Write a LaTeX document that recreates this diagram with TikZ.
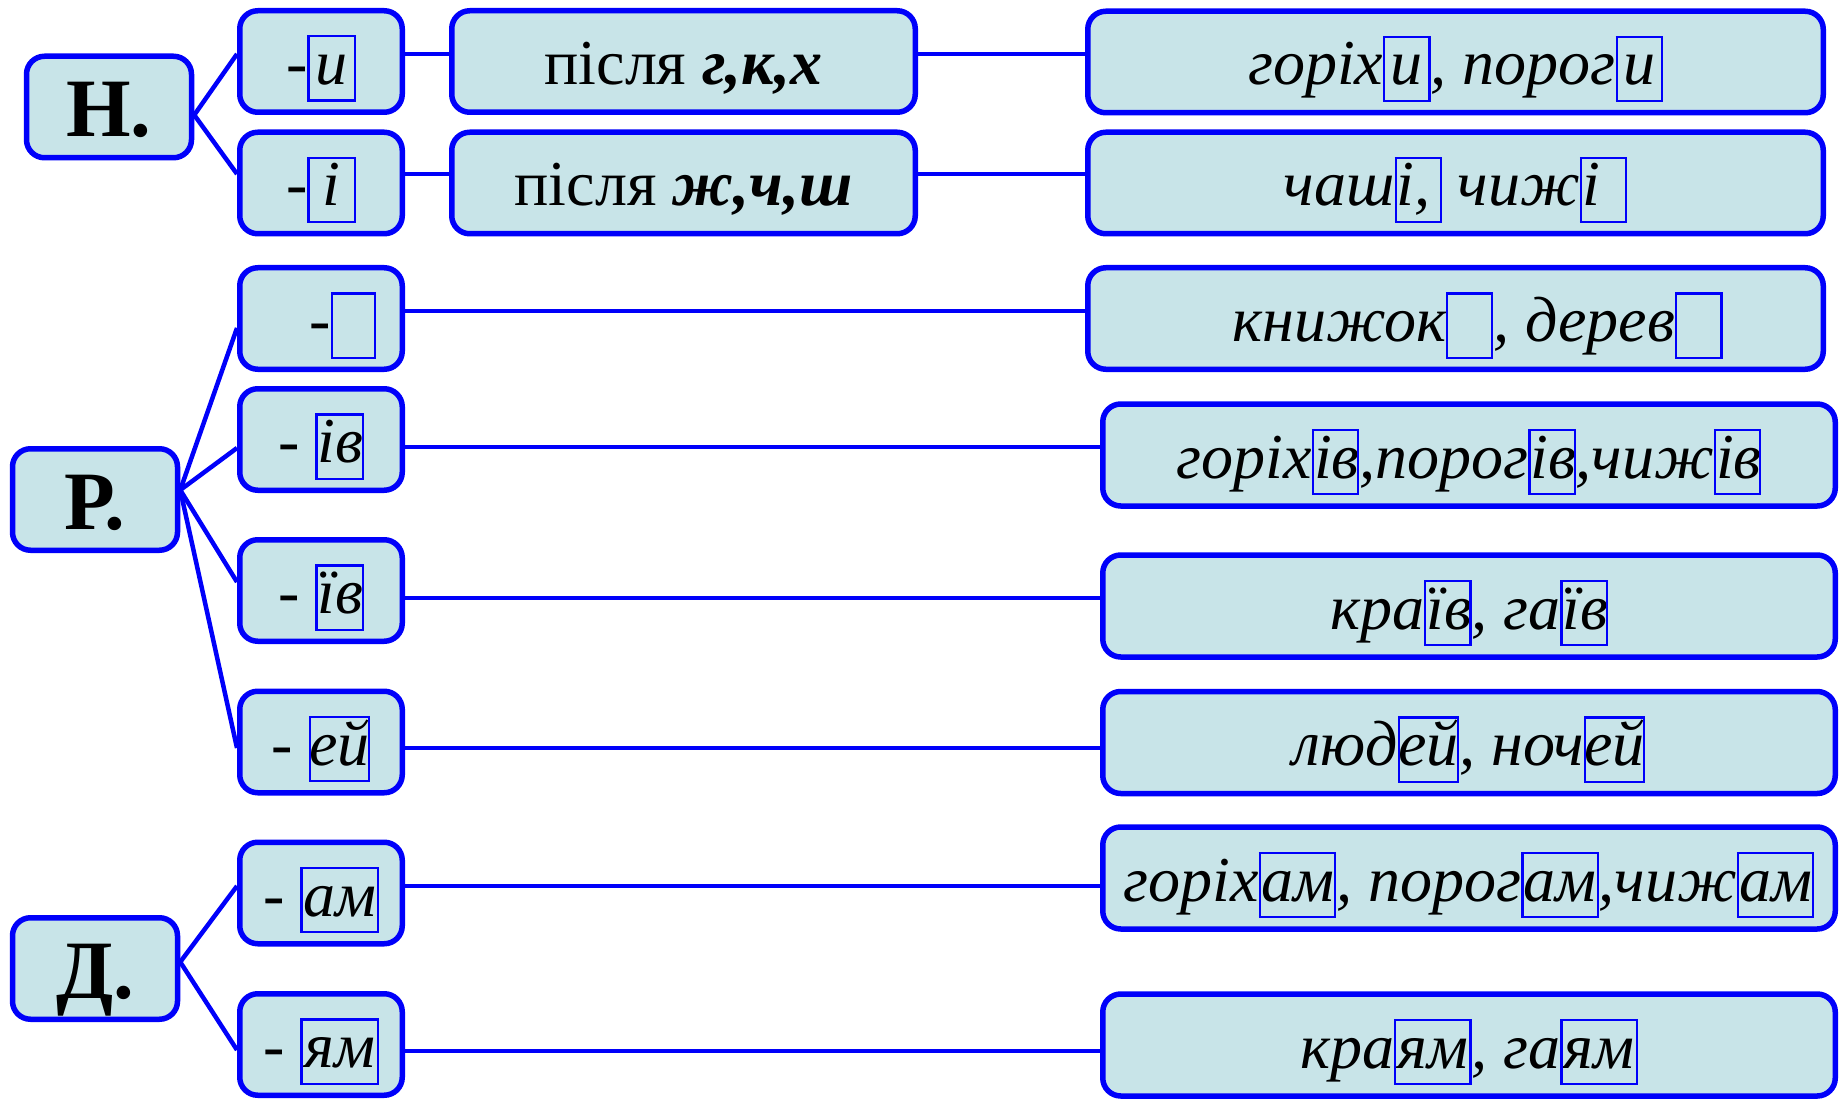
\documentclass[tikz,border=0pt]{standalone}
\usepackage{fontspec}
\setmainfont{Liberation Serif}
\definecolor{bfill}{RGB}{200,228,232}
\definecolor{bline}{RGB}{0,0,250}
\newcommand\fsN{\fontsize{64pt}{70pt}\selectfont}
\newcommand\fsB{\fontsize{83pt}{90pt}\selectfont\bfseries}
% framed ending: optional alignment, width, content
\newcommand\bx[3][c]{{\color{bline}\setlength\fboxrule{2.2pt}\setlength\fboxsep{0pt}\fbox{\color{black}\makebox[#2][#1]{\rule[-15pt]{0pt}{62pt}#3}}}}
\begin{document}
\begin{tikzpicture}[x=1pt,y=-1pt,
  basebox/.style={draw=bline, fill=bfill, line width=5.5pt, rounded corners=18pt, inner sep=0pt, text height=54pt, text depth=8pt, font=\fsN},
  headbox/.style={basebox, minimum width=165pt, minimum height=101.5pt, text height=60pt, text depth=0pt, font=\fsB},
  sufbox/.style={basebox, minimum width=162.5pt, minimum height=101.5pt},
  rulebox/.style={basebox, minimum width=463.5pt, minimum height=101.5pt},
  exboxa/.style={basebox, minimum width=735.5pt, minimum height=101.5pt},
  exboxb/.style={basebox, minimum width=732.5pt, minimum height=102pt},
  conn/.style={draw=bline, line width=4.5pt}]
\useasboundingbox (0,0) rectangle (1839,1099);

% case boxes
\node[headbox] (N) at (109,107) {Н.};
\node[headbox] (R) at (95,499.5) {Р.};
\node[headbox] (D) at (95,968.5) {Д.};

% ending boxes
\node[sufbox] (si)  at (321,61.5)  {-\bx{44pt}{\itshape и}};
\node[sufbox] (sii) at (321,183)   {-\bx{44pt}{\itshape і}};
\node[sufbox] (s0)  at (321,318.5) {\hspace{44pt}-\bx{41pt}{}};
\node[sufbox] (siv) at (321,439.5) {- \bx[l]{44pt}{\itshape ів}};
\node[sufbox] (sjv) at (321,590.5) {- \bx[l]{44pt}{\itshape їв}};
\node[sufbox] (sej) at (321,742)   {- \bx{57pt}{\itshape ей}};
\node[sufbox] (sam) at (321,893)   {- \bx{74pt}{\itshape ам}};
\node[sufbox] (sjm) at (321,1044.5){- \bx{74pt}{\itshape ям}};

% rule boxes
\node[rulebox] (p1) at (683.5,61.5) {після \textbf{\textit{г,к,х}}};
\node[rulebox] (p2) at (683.5,183)  {після \textbf{\textit{ж,ч,ш}}};

% example boxes
\node[exboxa] (e1) at (1455.5,62)    {\itshape горіх\bx{43pt}{и}, порог\bx{43pt}{и}};
\node[exboxa] (e2) at (1455.5,183)   {\itshape чаш\bx[l]{43pt}{і,} чиж\bx[l]{43pt}{і}};
\node[exboxa] (e3) at (1455.5,318.5) {\itshape\hspace{44pt}книжок\bx{43pt}{}, дерев\bx{43pt}{}};
\node[exboxb] (e4) at (1469,455)     {\itshape горіх\bx[l]{43pt}{ів},порог\bx[l]{43pt}{ів},чиж\bx[l]{43pt}{ів}};
\node[exboxb] (e5) at (1469,606)     {\itshape кра\bx[l]{43pt}{їв}, га\bx[l]{43pt}{їв}};
\node[exboxb] (e6) at (1469,742.5)   {\itshape люд\bx{57pt}{ей}, ноч\bx{57pt}{ей}};
\node[exboxb] (e7) at (1469,878)     {\itshape горіх\bx{73pt}{ам}, порог\bx{73pt}{ам},чиж\bx{73pt}{ам}};
\node[exboxb] (e8) at (1469,1045)    {\itshape кра\bx{73pt}{ям}, га\bx{73pt}{ям}};

% fans
\draw[conn] (si.west |- 0,54) -- (N.east |- 0,115) -- (sii.west |- 0,174);
\draw[conn] (R.east |- 0,490) -- (s0.west |- 0,328);
\draw[conn] (R.east |- 0,490) -- (siv.west |- 0,448);
\draw[conn] (R.east |- 0,490) -- (sjv.west |- 0,582);
\draw[conn] (R.east |- 0,490) -- (sej.west |- 0,748);
\draw[conn] (sam.west |- 0,886) -- (D.east |- 0,962) -- (sjm.west |- 0,1050);

% horizontal links
\draw[conn] (si.east |- 0,54) -- (p1.west |- 0,54);
\draw[conn] (p1.east |- 0,54) -- (e1.west |- 0,54);
\draw[conn] (sii.east |- 0,174) -- (p2.west |- 0,174);
\draw[conn] (p2.east |- 0,174) -- (e2.west |- 0,174);
\draw[conn] (s0.east |- 0,311) -- (e3.west |- 0,311);
\draw[conn] (siv.east |- 0,447) -- (e4.west |- 0,447);
\draw[conn] (sjv.east |- 0,598) -- (e5.west |- 0,598);
\draw[conn] (sej.east |- 0,748) -- (e6.west |- 0,748);
\draw[conn] (sam.east |- 0,886) -- (e7.west |- 0,886);
\draw[conn] (sjm.east |- 0,1051) -- (e8.west |- 0,1051);
\end{tikzpicture}
\end{document}
